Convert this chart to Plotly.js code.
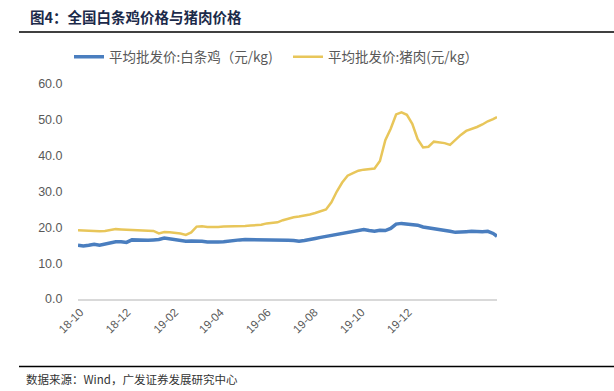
<!DOCTYPE html>
<html>
<head>
<meta charset="utf-8">
<script src="https://cdn.plot.ly/plotly-3.0.1.min.js"></script>
<style>
  html, body { margin: 0; padding: 0; background: #ffffff; }
  #chart { width: 614px; height: 391px; }
</style>
</head>
<body>
<div id="chart"></div>
<script>
const dates = [
  '2018-09-28','2018-10-05','2018-10-12','2018-10-19','2018-10-26',
  '2018-11-02','2018-11-09','2018-11-16','2018-11-23','2018-11-30',
  '2018-12-07','2018-12-14','2018-12-21','2018-12-28',
  '2019-01-04','2019-01-11','2019-01-18','2019-01-25',
  '2019-02-01','2019-02-08','2019-02-15','2019-02-22',
  '2019-03-01','2019-03-08','2019-03-15','2019-03-22','2019-03-29',
  '2019-04-05','2019-04-12','2019-04-19','2019-04-26',
  '2019-05-03','2019-05-10','2019-05-17','2019-05-24','2019-05-31',
  '2019-06-07','2019-06-14','2019-06-21','2019-06-28',
  '2019-07-05','2019-07-12','2019-07-19','2019-07-26',
  '2019-08-02','2019-08-09','2019-08-16','2019-08-23','2019-08-30',
  '2019-09-06','2019-09-13','2019-09-20','2019-09-27',
  '2019-10-04','2019-10-11','2019-10-18','2019-10-25',
  '2019-11-01','2019-11-08','2019-11-15','2019-11-22','2019-11-29',
  '2019-12-06','2019-12-13','2019-12-20','2019-12-27',
  '2020-01-03','2020-01-10','2020-01-17','2020-01-24','2020-01-31',
  '2020-02-07','2020-02-14','2020-02-21','2020-02-28',
  '2020-03-06','2020-03-13','2020-03-20','2020-03-25'
];

// 平均批发价:白条鸡（元/kg)
const chicken = [
  15.0,14.8,15.0,15.3,15.0,
  15.3,15.8,16.0,16.0,15.8,
  16.5,16.4,16.3,16.4,
  16.5,16.6,17.0,16.8,
  16.4,16.2,16.1,16.2,
  16.2,16.1,15.9,15.8,15.9,
  16.0,16.2,16.5,16.5,
  16.6,16.6,16.5,16.6,16.5,
  16.4,16.6,16.5,16.4,
  16.3,16.1,16.3,16.5,
  16.9,17.2,17.5,17.8,18.0,
  18.3,18.6,18.9,19.2,
  19.4,19.1,18.9,19.2,
  19.1,19.7,20.9,21.1,21.0,
  20.9,20.6,20.1,19.9,
  19.6,19.4,19.1,18.9,18.6,
  18.6,18.8,18.9,18.8,
  18.8,18.9,18.3,17.5
];

// 平均批发价:猪肉(元/kg）
const pork = [
  19.2,19.1,19.0,19.0,18.9,
  19.0,19.2,19.5,19.4,19.3,
  19.2,19.1,19.1,19.0,
  19.0,18.3,18.7,18.6,
  18.5,18.3,17.9,18.6,
  20.2,20.3,20.1,20.0,20.1,
  20.2,20.2,20.3,20.4,
  20.4,20.5,20.5,20.7,21.1,
  21.3,21.4,22.0,22.5,
  22.8,23.0,23.2,23.6,
  24.0,24.5,25.0,27.0,30.0,
  32.5,34.4,35.1,35.8,
  36.1,36.2,36.4,38.5,
  44.3,47.5,51.5,52.1,51.4,
  48.9,44.6,42.3,42.5,
  43.9,43.7,43.5,43.0,44.5,
  45.8,46.9,47.4,48.0,
  48.7,49.6,50.2,50.8
];

const tickDates = ['2018-10-01','2018-12-01','2019-02-01','2019-04-01','2019-06-01','2019-08-01','2019-10-01','2019-12-01'];
const tickLabels = ['18-10','18-12','19-02','19-04','19-06','19-08','19-10','19-12'];
const yTicks = [0,10,20,30,40,50,60];

const seriesNames = ['平均批发价:白条鸡（元/kg)','平均批发价:猪肉(元/kg）'];
const titleText = '图4：全国白条鸡价格与猪肉价格';
const sourceText = '数据来源：Wind，广发证券发展研究中心';

const FONT = 'Liberation Sans, Arial, Noto Sans CJK SC, sans-serif';
const CJK = 'Noto Sans CJK SC, Liberation Sans, sans-serif';

const traces = [
  { x: dates, y: chicken, type: 'scatter', mode: 'lines', name: seriesNames[0],
    line: { color: '#4a7ebf', width: 3.5 } },
  { x: dates, y: pork, type: 'scatter', mode: 'lines', name: seriesNames[1],
    line: { color: '#e8c65a', width: 2.5 } }
];

// plot area: x 78..497 px, y 84..298.7 px
const L = 78, R = 497, T = 84, B = 298.7;
const px = p => (p - L) / (R - L);
const py = q => (B - q) / (B - T);

const layout = {
  width: 614, height: 391,
  margin: { l: L, r: 614 - R, t: T, b: 391 - B },
  paper_bgcolor: '#ffffff', plot_bgcolor: '#ffffff',
  font: { family: FONT, color: '#595959', size: 12 },
  showlegend: true,
  legend: {
    orientation: 'h', x: px(69), y: py(57), xanchor: 'left', yanchor: 'middle',
    font: { family: CJK, size: 13.5, color: '#595959' },
    bgcolor: 'rgba(0,0,0,0)', tracegroupgap: 0, itemwidth: 30,
    entrywidth: 174, entrywidthmode: 'pixels'
  },
  xaxis: {
    type: 'date', range: ['2018-09-28', '2020-03-25'],
    tickmode: 'array', tickvals: tickDates, ticktext: tickLabels,
    tickangle: -45, tickfont: { size: 11.5, color: '#595959' },
    showgrid: false, zeroline: false,
    showline: true, linecolor: '#d9d9d9', linewidth: 2,
    ticks: '', fixedrange: true
  },
  yaxis: {
    range: [0, 60], tickmode: 'array', tickvals: yTicks, tickformat: '.1f',
    tickfont: { size: 12.5, color: '#595959' },
    showgrid: false, zeroline: false, showline: false,
    ticks: 'outside', ticklen: 12, tickcolor: 'rgba(0,0,0,0)', fixedrange: true
  },
  shapes: [
    { type: 'line', xref: 'paper', yref: 'paper', x0: px(19), x1: px(614), y0: py(32), y1: py(32),
      line: { color: '#000000', width: 1.5 } },
    { type: 'line', xref: 'paper', yref: 'paper', x0: px(19), x1: px(614), y0: py(366), y1: py(366),
      line: { color: '#000000', width: 1.5 } }
  ],
  annotations: [
    { text: '<b>' + titleText + '</b>', xref: 'paper', yref: 'paper', x: px(28), y: py(17),
      xanchor: 'left', yanchor: 'middle', showarrow: false,
      font: { family: CJK, size: 14.5, color: '#1c2a4a' } },
    { text: sourceText, xref: 'paper', yref: 'paper', x: px(24), y: py(379),
      xanchor: 'left', yanchor: 'middle', showarrow: false,
      font: { family: CJK, size: 11.5, color: '#333333' } }
  ]
};

Plotly.newPlot('chart', traces, layout, { displayModeBar: false, staticPlot: true });
</script>
</body>
</html>
